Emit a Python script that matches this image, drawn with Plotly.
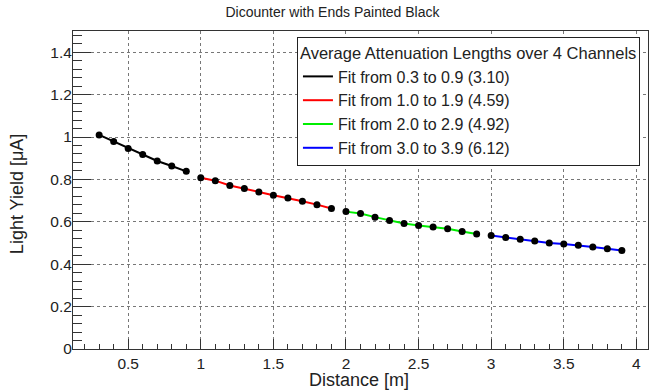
import plotly.graph_objects as go

# distance [m] and light yield [uA] for each fit range
dist_1 = [0.3, 0.4, 0.5, 0.6, 0.7, 0.8, 0.9]
yield_1 = [1.010, 0.979, 0.946, 0.918, 0.887, 0.863, 0.838]

dist_2 = [1.0, 1.1, 1.2, 1.3, 1.4, 1.5, 1.6, 1.7, 1.8, 1.9]
yield_2 = [0.808, 0.794, 0.771, 0.757, 0.741, 0.725, 0.712, 0.697, 0.681, 0.663]

dist_3 = [2.0, 2.1, 2.2, 2.3, 2.4, 2.5, 2.6, 2.7, 2.8, 2.9]
yield_3 = [0.648, 0.639, 0.622, 0.606, 0.592, 0.583, 0.575, 0.567, 0.554, 0.542]

dist_4 = [3.0, 3.1, 3.2, 3.3, 3.4, 3.5, 3.6, 3.7, 3.8, 3.9]
yield_4 = [0.535, 0.526, 0.518, 0.510, 0.500, 0.495, 0.489, 0.481, 0.473, 0.465]

fit_names = [
    "Fit from 0.3 to 0.9 (3.10)",
    "Fit from 1.0 to 1.9 (4.59)",
    "Fit from 2.0 to 2.9 (4.92)",
    "Fit from 3.0 to 3.9 (6.12)",
]
fit_colors = ["#000000", "#ff0000", "#00ee00", "#0000ff"]

FONT = "Liberation Sans, Arial, sans-serif"

fig = go.Figure()

segments = [(dist_1, yield_1), (dist_2, yield_2), (dist_3, yield_3), (dist_4, yield_4)]

# fit lines
for (xs, ys), name, col in zip(segments, fit_names, fit_colors):
    fig.add_trace(go.Scatter(
        x=xs, y=ys, mode="lines", name=name,
        line=dict(color=col, width=2),
    ))

# measured points on top
for xs, ys in segments:
    fig.add_trace(go.Scatter(
        x=xs, y=ys, mode="markers", showlegend=False,
        marker=dict(color="black", size=7),
    ))

axis_common = dict(
    showline=True, linecolor="#333", linewidth=1, mirror=True,
    showgrid=True, gridcolor="#777", griddash="dot", gridwidth=1,
    ticks="inside", tickcolor="#333",
    tickfont=dict(family=FONT, size=15.5, color="#222"),
    zeroline=False,
)

fig.update_xaxes(
    range=[0.12, 4.08], tick0=0.5, dtick=0.5, ticklen=10,
    minor=dict(dtick=0.1, tick0=0, ticks="inside", ticklen=5, tickcolor="#333", showgrid=False),
    **axis_common,
)
fig.update_yaxes(
    range=[0, 1.5], tick0=0, dtick=0.2, ticklen=18, ticklabelstandoff=-3,
    minor=dict(dtick=0.04, tick0=0, ticks="inside", ticklen=9, tickcolor="#333", showgrid=False),
    **axis_common,
)

fig.update_layout(
    width=665, height=390,
    margin=dict(l=73, r=17, t=31, b=41),
    paper_bgcolor="white", plot_bgcolor="white",
    title=dict(
        text="Dicounter with Ends Painted Black",
        x=0.5, xanchor="center", y=1 - 12 / 390, yanchor="middle", yref="container",
        font=dict(family=FONT, size=14, color="#222"),
    ),
    legend=dict(
        x=0.986, xanchor="right", y=0.981, yanchor="top",
        bgcolor="white", bordercolor="#222", borderwidth=1,
        font=dict(family=FONT, size=16, color="#222"),
        title=dict(text="Average Attenuation Lengths over 4 Channels",
                   font=dict(family=FONT, size=16.5, color="#222"), side="top"),
        tracegroupgap=0,
    ),
    annotations=[
        dict(text="Distance [m]", xref="paper", yref="paper", x=0.497, y=0,
             yshift=-31, xanchor="center", yanchor="middle", showarrow=False,
             font=dict(family=FONT, size=18, color="#222")),
        dict(text="Light Yield [μA]", xref="paper", yref="paper", x=0, y=0.487,
             xshift=-56, xanchor="center", yanchor="middle", textangle=-90,
             showarrow=False, font=dict(family=FONT, size=18, color="#222")),
    ],
)

# drop the default page margin so the figure sits at the window's corner
fig.write_html("out.html", config={"displayModeBar": False},
               post_script="document.body.style.margin='0';")
